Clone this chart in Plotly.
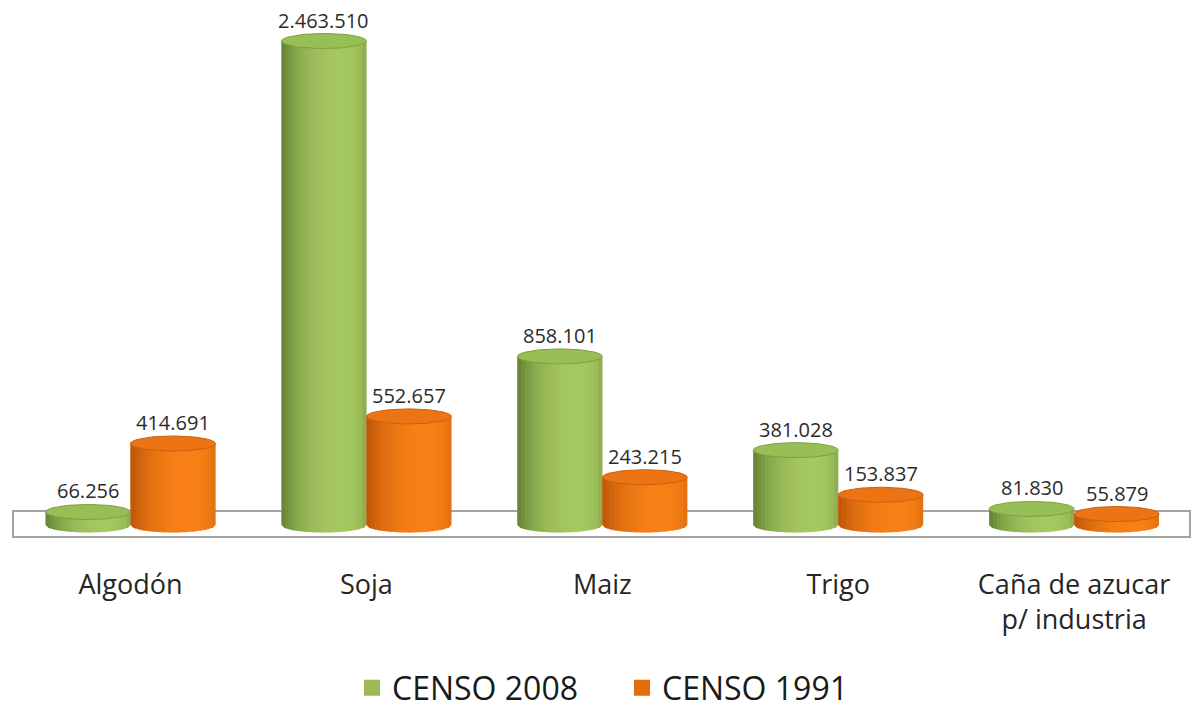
import numpy as np
import plotly.graph_objects as go

# ---------------- data ----------------
categories = ["Algodón", "Soja", "Maiz", "Trigo", "Caña de azucar<br>p/ industria"]
censo_2008 = [66256, 2463510, 858101, 381028, 81830]
censo_1991 = [414691, 552657, 243215, 153837, 55879]
series_names = ["CENSO 2008", "CENSO 1991"]

# ---------------- layout geometry ----------------
W, H = 1194, 715
ML, MR, MT, MB = 13, 4, 10, 153
PLOT_TOP, PLOT_BOT = MT, H - MB
ZERO_PX = 525          # pixel row of value 0
UNITS_PER_PX = 5090.0  # data units per pixel (vertical)
X_PX_PER_UNIT = 235.9
X_ZERO_PX = 130.5

y_range = [-(PLOT_BOT - ZERO_PX) * UNITS_PER_PX, (ZERO_PX - PLOT_TOP) * UNITS_PER_PX]
plot_w = W - ML - MR
x_left = (ML - X_ZERO_PX) / X_PX_PER_UNIT
x_range = [x_left, x_left + plot_w / X_PX_PER_UNIT]


def px_to_val(py):
    return (ZERO_PX - py) * UNITS_PER_PX


BAR_W = 0.36
R = BAR_W / 2
HH = 7.5 * UNITS_PER_PX  # ellipse half-height in data units
N_STRIPS = 22

xpos = np.arange(len(categories))

palette = {
    "CENSO 2008": dict(base="#9BBB59", dark=(78, 108, 38), light=(166, 200, 96),
                       top="rgb(152,190,86)", rim="rgb(125,160,62)", offset=-R),
    "CENSO 1991": dict(base="#E46C0A", dark=(168, 72, 4), light=(248, 128, 22),
                       top="rgb(236,116,20)", rim="rgb(205,96,12)", offset=R),
}


def shade(t, dark, light):
    theta = np.arcsin(2 * t - 1)
    f = 0.30 + 0.70 * max(0.0, np.cos(theta - np.radians(22)))
    c = [int(round(d + (l - d) * f)) for d, l in zip(dark, light)]
    return f"rgb({c[0]},{c[1]},{c[2]})"


def ybot(x, c):
    u = (x - c) / R
    return -HH * np.sqrt(max(0.0, 1 - u * u))


fig = go.Figure()

series_vals = {"CENSO 2008": censo_2008, "CENSO 1991": censo_1991}

for name in series_names:
    vals = series_vals[name]
    p = palette[name]
    # real bars (base)
    fig.add_trace(go.Bar(
        x=xpos, y=vals, name=name, width=BAR_W, showlegend=False,
        offset=p["offset"] - R, marker=dict(color=p["base"], line=dict(width=0)),
        hoverinfo="skip",
    ))

for name in series_names:
    vals = series_vals[name]
    p = palette[name]
    centers = xpos + p["offset"]
    dw = 2 * R / N_STRIPS
    for k in range(N_STRIPS):
        xs, ys = [], []
        for c, v in zip(centers, vals):
            xa = c - R + k * dw
            xb = min(c + R, xa + dw * 1.4)
            xm = (xa + xb) / 2
            xs += [xa, xb, xb, xm, xa, None]
            ys += [v, v, ybot(xb, c), ybot(xm, c), ybot(xa, c), None]
        col = shade((k + 0.5) / N_STRIPS, p["dark"], p["light"])
        fig.add_trace(go.Scatter(
            x=xs, y=ys, mode="lines", fill="toself", fillcolor=col,
            line=dict(width=0, color=col), showlegend=False, hoverinfo="skip",
        ))
    # top ellipses
    th = np.linspace(0, 2 * np.pi, 72)
    xs, ys = [], []
    for c, v in zip(centers, vals):
        xs += list(c + R * np.cos(th)) + [None]
        ys += list(v + HH * np.sin(th)) + [None]
    fig.add_trace(go.Scatter(
        x=xs, y=ys, mode="lines", fill="toself", fillcolor=p["top"],
        line=dict(width=1, color=p["rim"]), showlegend=False, hoverinfo="skip",
    ))

# legend entries (square swatches)
for name in series_names:
    p = palette[name]
    fig.add_trace(go.Scatter(
        x=[None], y=[None], mode="markers", name=name,
        marker=dict(symbol="square", size=18, color=p["base"]),
    ))

# value labels
annotations = []
for name in series_names:
    vals = series_vals[name]
    p = palette[name]
    for c, v in zip(xpos + p["offset"], vals):
        annotations.append(dict(
            x=c, y=v, xref="x", yref="y", text=f"{v:,}".replace(",", "."),
            showarrow=False, yanchor="middle", yshift=21,
            font=dict(family="Open Sans", size=20, color="#2b2b2b"),
        ))

fig.update_layout(
    width=W, height=H, autosize=False,
    margin=dict(l=ML, r=MR, t=MT, b=MB, autoexpand=False),
    paper_bgcolor="white", plot_bgcolor="white",
    barmode="overlay",
    showlegend=True,
    legend=dict(
        orientation="h", xref="container", yref="container",
        x=352 / W, xanchor="left", y=1 - 688 / H, yanchor="middle",
        font=dict(family="Open Sans", size=32, color="#1a1a1a"),
        itemsizing="trace", entrywidth=225, entrywidthmode="pixels",
        itemclick=False, itemdoubleclick=False, bgcolor="rgba(0,0,0,0)",
    ),
    xaxis=dict(
        range=x_range, tickmode="array", tickvals=list(xpos), ticktext=categories,
        showgrid=False, zeroline=False, showline=False, ticks="",
        ticklabelstandoff=4,
        tickfont=dict(family="Open Sans", size=27, color="#262626"),
        fixedrange=True,
    ),
    yaxis=dict(range=y_range, visible=False, fixedrange=True),
    annotations=annotations,
    shapes=[dict(
        type="rect", xref="paper", yref="y", x0=0, x1=1,
        y0=px_to_val(537), y1=px_to_val(511),
        line=dict(color="#a3a3a3", width=2), fillcolor="white", layer="below",
    )],
)

fig.write_html("out.html", config={"displayModeBar": False},
               post_script="document.body.style.margin='0px';")
